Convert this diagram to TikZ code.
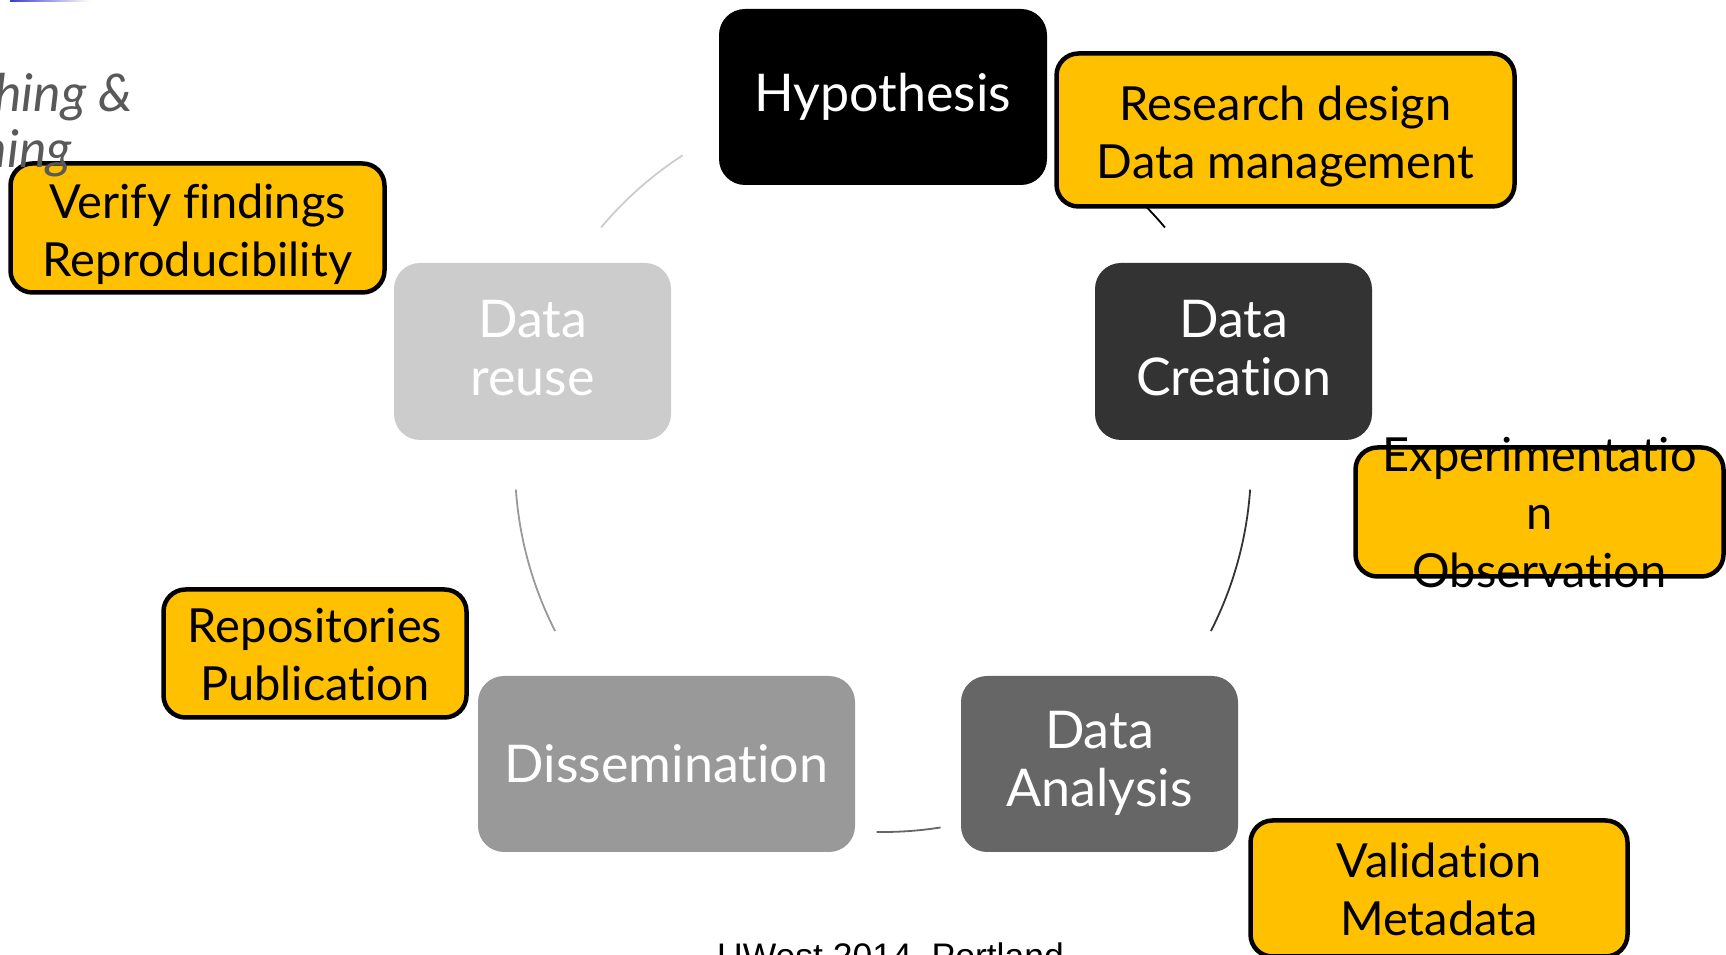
\documentclass[tikz,border=0pt]{standalone}
\usepackage{fontspec}
\setmainfont{Lato}[Ligatures={NoCommon}]
\newfontfamily\footerfont{Liberation Sans}
\usetikzlibrary{calc}
\definecolor{gold}{HTML}{FFC000}
\definecolor{creation}{HTML}{333333}
\definecolor{analysis}{HTML}{666666}
\definecolor{dissem}{HTML}{999999}
\definecolor{reuse}{HTML}{CCCCCC}
\definecolor{titlegray}{HTML}{595959}
\begin{document}
\begin{tikzpicture}[x=1pt,y=1pt,
  stage/.style={rounded corners=26pt, inner sep=0pt},
  stagetext/.style={text=white, align=center, inner sep=0pt,
    font=\fontsize{52}{58}\selectfont},
  notebox/.style={rounded corners=22pt, fill=gold, draw=black, line width=4.5pt,
    inner sep=0pt},
  notetext/.style={align=center, inner sep=0pt, font=\fontsize{47}{58}\selectfont},
  loop/.style={line width=1.8pt}]
\useasboundingbox (0,0) rectangle (1726,955);
\clip (0,0) rectangle (1726,955);

% accent bar at the top edge
\shade[left color={rgb,255:red,60;green,60;blue,210}, right color=white]
  (10,953) rectangle (90,955);

% cycle centre
\coordinate (c) at (883,491);

% connecting arcs of the cycle
\draw[loop, black]    ($(c)+(40:368)$)  arc[start angle=40,  end angle=57,  radius=368];
\draw[loop, creation] ($(c)+(333:368)$) arc[start angle=333, end angle=356, radius=368];
\draw[loop, analysis] ($(c)+(269:368)$) arc[start angle=269, end angle=279, radius=368];
\draw[loop, dissem]   ($(c)+(184:368)$) arc[start angle=184, end angle=207, radius=368];
\draw[loop, reuse]    ($(c)+(123:368)$) arc[start angle=123, end angle=140, radius=368];

% stages: boxes
\node[stage, fill=black, minimum width=328, minimum height=176] (hyp) at (883,858) {};
\node[stage, fill=creation, minimum width=277, minimum height=177] (cre) at (1233.5,603.5) {};
\node[stage, fill=analysis, minimum width=277, minimum height=176] (ana) at (1099.5,191) {};
\node[stage, fill=dissem, minimum width=377, minimum height=176] (dis) at (666.5,191) {};
\node[stage, fill=reuse, minimum width=277, minimum height=177] (reu) at (532.5,603.5) {};

% stages: texts
\node[stagetext] (hypt) at (hyp.center) {Hypothesis};
\node[stagetext] (cret) at ([yshift=3]cre.center) {Data\\Creation};
\node[stagetext] (anat) at ([yshift=1]ana.center) {Data\\Analysis};
\node[stagetext] (dist) at (dis.center) {Dissemination};
\node[stagetext] (reut) at ([yshift=3]reu.center) {Data\\reuse};

% notes: boxes
\node[notebox, minimum width=458, minimum height=153] (n1) at (1285.5,825) {};
\node[notebox, minimum width=368, minimum height=129] (n2) at (1539.5,443) {};
\node[notebox, minimum width=377, minimum height=136] (n3) at (1439,66.5) {};
\node[notebox, minimum width=303, minimum height=128] (n4) at (315,301.5) {};
\node[notebox, minimum width=374, minimum height=129] (n5) at (197.5,727) {};

% notes: texts
\node[notetext] (n1t) at ([yshift=-6]n1.center) {Research design\\Data management};
\node[notetext] (n2t) at ([yshift=-1]n2.center) {Experimentatio\\n\\Observation};
\node[notetext] (n3t) at ([yshift=-1]n3.center) {Validation\\Metadata};
\node[notetext] (n4t) at ([yshift=-1]n4.center) {Repositories\\Publication};
\node[notetext] (n5t) at ([yshift=-6]n5.center) {Verify findings\\Reproducibility};

% title fragment at the upper left
\node[anchor=base east, inner sep=0pt, text=titlegray, font=\itshape\fontsize{52}{60}\selectfont] (t1) at (133,843) {ching \&};
\node[anchor=base east, inner sep=0pt, text=titlegray, font=\itshape\fontsize{52}{60}\selectfont] (t2) at (72,787) {ning};

% footer
\node[anchor=base west, inner sep=0pt, font=\footerfont\fontsize{35.5}{40}\selectfont] (foot) at (717,-14) {UWest 2014, Portland};
\end{tikzpicture}
\end{document}
